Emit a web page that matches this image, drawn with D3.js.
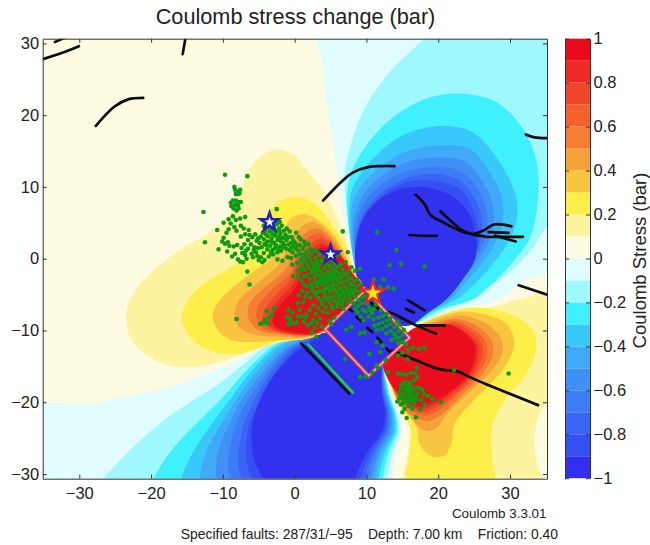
<!DOCTYPE html>
<html><head><meta charset="utf-8">
<style>html,body{margin:0;padding:0;background:#fff}svg{display:block}text{font-family:"Liberation Sans",Arial,sans-serif;fill:#222;white-space:pre}</style>
<script src="https://cdnjs.cloudflare.com/ajax/libs/d3/7.8.5/d3.min.js"></script>
</head><body><svg id="c" width="650" height="545"></svg>
<script>
const levelTicks=[1,0.8,0.6,0.4,0.2,0,-0.2,-0.4,-0.6,-0.8,-1];
const bandEdges=[-1,-0.9,-0.8,-0.7,-0.6,-0.5,-0.4,-0.3,-0.2,-0.1,0,0.1,0.2,0.3,0.4,0.5,0.6,0.7,0.8,0.9,1];
const bandColors=["#3030ee","#3450f2","#3a64f5","#3d7cf5","#3f90f5","#40aaf8","#38c8fa","#40f0ff","#9ff8fe","#e0fcfe","#fdfbe2","#fef3a0","#fdee4a","#f9c440","#f6a23a","#f47e33","#f2622f","#f0462b","#ee2a24","#ea0a1c"];
const xTicks=[-30,-20,-10,0,10,20,30];
const yTicks=[-30,-20,-10,0,10,20,30];

// Traced contours in km. Index i paints the band i+1 steps away from zero.
const contoursNE=[
[[3.4,32],[3.9,27],[4.2,23.7],[4.7,20],[5.3,16.7],[5.9,12],[6.5,7.4],[7.8,2.7],[9.1,-2.9],[10,-4.3],[12.5,-8.5],[16,-9.2],[19,-8.5],[23,-7],[28.5,-5.7],[31.8,-3.1],[36,-1.3],[38,15],[36,32]],
[[19,32],[18.1,30.7],[13.7,26.5],[10,21.4],[7.9,16.2],[7,12],[7.2,7.4],[7.9,2.7],[9.2,-2.9],[10,-4.3],[12.5,-8.5],[16,-9.2],[20,-7.6],[24.4,-5.2],[28.6,-2.9],[32.7,.9],[35.3,4.6],[38,6],[38,32]],
[[23,23],[18.3,22.3],[13.7,19.7],[10,15.8],[7.9,12],[7.3,8.8],[7.5,4.6],[8.4,-1.0],[9.3,-3],[10,-4.3],[12.5,-8.5],[16,-9.2],[20,-7.2],[24.8,-5.7],[27.2,-3.8],[29.9,-1],[32.7,2.7],[33.9,8.3],[33.7,13.5],[31.8,18.1],[28.1,21.8]],
[[20.7,18.5],[16,17.6],[12.3,15.3],[9.7,12.5],[7.9,9.3],[7.6,5.5],[7.9,1.8],[8.7,-2.0],[9.4,-3.2],[10,-4.3],[12.5,-8.5],[16,-9.2],[19,-7.4],[22.5,-5.7],[25.3,-3.3],[28.1,-.1],[30.6,4.1],[30.9,8.3],[28.5,13.5],[24.8,17.6]],
[[20.7,15.8],[16,15.1],[12.5,13.2],[9.7,10.7],[8.1,7.9],[7.9,4.6],[8.1,.9],[8.8,-2.2],[9.5,-3.4],[10,-4.3],[12.5,-8.5],[16,-9.2],[18.7,-7.5],[21.6,-5.7],[23.4,-3.8],[26.2,-.5],[28.6,3.7],[29,7.9],[27.2,12],[24.4,15.3]],
[[20.2,14.1],[16.5,13.7],[13.2,12.3],[10.4,10],[8.8,7.4],[8.1,4.1],[8.4,.4],[8.9,-2.4],[9.6,-3.6],[10,-4.3],[12.5,-8.5],[16,-9.2],[18.5,-7.6],[21.1,-5.7],[22.5,-3.8],[25.3,-.5],[27.4,3.2],[27.6,7.4],[26.2,10.7],[23.9,13.5]],
[[20,12.8],[16.5,12.4],[13.7,11.4],[10.9,9.3],[9,6.5],[8.4,3.2],[8.5,.1],[9,-2.5],[10,-4.3],[12.5,-8.5],[16,-9.2],[18.4,-7.6],[22,-4.3],[24.4,-1],[26.5,2.7],[26.7,6.7],[25.5,9.7],[23.4,12]],
[[19.7,11.8],[16.5,11.5],[13.9,10.4],[11.1,8.3],[9.3,5.8],[8.5,2.7],[8.5,-.1],[9.1,-2.6],[10,-4.3],[12.5,-8.5],[16,-9.2],[18.4,-7.6],[21.6,-4.7],[23.9,-1.5],[25.8,2.3],[26,6],[24.8,8.8],[23,10.9]],
[[18.8,10.9],[15.6,10.6],[12.5,9],[10.2,6.7],[8.8,3.7],[8.45,.5],[9.1,-2.7],[10,-4.3],[12.5,-8.5],[16,-9.2],[18.4,-7.6],[21.4,-5.2],[22.5,-3.8],[24.4,-1],[25.6,2.7],[24.8,6.9],[23,9.7]],
[[17.9,10],[14.2,9.5],[11.4,7.9],[9.5,5.5],[8.6,2.3],[8.4,-.1],[8.8,-3.0],[10,-4.3],[12.5,-8.5],[16,-9.3],[18.3,-7.7],[21.1,-5.7],[23.4,-2.9],[25.1,-.1],[25.3,2.7],[24.4,6],[22.5,8.3],[20.2,9.5]]
];
const contoursSW=[
[[-36,-20.8],[-28.55,-20.3],[-23.9,-19.3],[-19.3,-18.4],[-14.6,-17],[-10,-15.1],[-6.3,-13.3],[-3.5,-11.6],[-.7,-10.7],[3.9,-10.4],[9,-12],[12,-14.5],[12.9,-17],[13.5,-19.1],[14.5,-21.4],[14.9,-24],[14.2,-27],[13.7,-30.5],[13.5,-33],[-36,-33]],
[[-27.5,-32],[-26.7,-30.7],[-24.4,-28.2],[-21.6,-25.4],[-18.3,-22.6],[-14.6,-20],[-10.9,-17.7],[-7.6,-15.1],[-4.9,-12.8],[-2.6,-11.4],[.2,-10.7],[3.9,-10.4],[9,-12],[12,-14.5],[12.8,-17],[13.35,-19.1],[14.2,-21.4],[14.6,-24],[13.6,-27],[12.9,-30.5],[12.7,-33]],
[[-20.5,-32],[-19.7,-30.7],[-17.9,-27.7],[-15.6,-24.9],[-12.8,-22.1],[-10,-19.3],[-7.2,-16.1],[-4.4,-13.3],[-2.1,-11.6],[.7,-10.8],[3.9,-10.4],[9,-12],[12,-14.5],[12.7,-17],[13.2,-19.1],[14,-21.4],[14.3,-24],[13.1,-27],[12.3,-30.5],[12,-33]],
[[-16,-32],[-15.8,-30.7],[-14.8,-28.2],[-13.2,-25.4],[-11.1,-22.4],[-9,-19.6],[-6.7,-16.5],[-4.2,-13.7],[-1.9,-11.9],[.9,-10.9],[3.9,-10.4],[9,-12],[12,-14.5],[12.6,-17],[13.05,-19.1],[13.8,-21.4],[14,-24],[12.6,-27],[11.7,-30.5],[11.4,-33]],
[[-13.3,-32],[-13.2,-30.7],[-12.8,-28.2],[-11.6,-25.4],[-10,-22.6],[-8.1,-19.6],[-6.3,-17],[-3.9,-14.2],[-1.6,-12.1],[1.2,-11],[3.9,-10.4],[9,-12],[12,-14.5],[12.5,-17],[12.9,-19.1],[13.6,-21.4],[13.7,-24],[12.2,-27],[11.2,-30.5],[10.9,-33]],
[[-10.9,-32],[-10.9,-30.7],[-10.9,-28.2],[-10.2,-25.4],[-9,-22.8],[-7.6,-20],[-5.8,-17.5],[-3.7,-14.9],[-1.4,-12.6],[1.4,-11.2],[3.9,-10.4],[9,-12],[12,-14.5],[12.4,-17],[12.75,-19.1],[13.4,-21.4],[13.4,-24],[11.8,-27],[10.8,-30.5],[10.5,-33]],
[[-8.9,-32],[-9,-30.7],[-9.3,-28.2],[-8.8,-25.4],[-8.1,-23],[-7,-20.5],[-5.3,-17.9],[-3.5,-15.4],[-1.2,-12.8],[1.6,-11.3],[3.9,-10.4],[9,-12],[12,-14.5],[12.3,-17],[12.6,-19.1],[13.2,-21.4],[13.1,-24],[11.4,-27],[10.3,-30.5],[10,-33]],
[[-7.2,-32],[-7.4,-30.7],[-7.9,-28.2],[-7.6,-25.4],[-7,-22.8],[-6,-20.5],[-4.9,-18.4],[-3.2,-15.8],[-.9,-13],[1.9,-11.3],[3.9,-10.4],[9,-12],[12,-14.5],[12.2,-17],[12.45,-19.1],[13,-21.4],[12.8,-24],[11,-27],[9.8,-30.5],[9.5,-33]],
[[-5.6,-32],[-6,-30.7],[-6.7,-28.2],[-6.7,-25.4],[-6.3,-23],[-5.3,-20.7],[-4.4,-18.6],[-3,-16.3],[-.7,-13.3],[2.1,-11.4],[3.9,-10.4],[9,-12],[12,-14.5],[12.1,-17],[12.3,-19.1],[12.8,-21.4],[12.5,-24],[10.6,-27],[9.2,-30.5],[8.9,-33]],
[[-4,-32],[-4.4,-30.7],[-5.6,-28.2],[-6,-24.9],[-5.8,-22.6],[-4.9,-20],[-3.9,-17.9],[-2.5,-15.8],[-.2,-13.3],[2.6,-11.4],[3.9,-10.4],[9,-12],[11.8,-14.5],[12,-17],[12.15,-19.1],[12.6,-21.4],[12.2,-24],[10.1,-27],[8.5,-30.5],[8.2,-33]]
];
const contoursNW=[
[[-2.55,15.2],[-5.3,13.8],[-7.2,10.5],[-9,6.3],[-11.4,4],[-16,1.2],[-20.2,-2.1],[-23,-5.8],[-23.5,-8.1],[-22.7,-11.4],[-20.2,-13.7],[-16.5,-15.1],[-11.8,-14.7],[-7.2,-13.3],[-3,-11.9],[.7,-11.2],[3.6,-10.5],[7,-8],[9.5,-3.9],[8.3,-1.9],[7.1,2.7],[6,5.5],[4.4,8.8],[2.1,11.9],[-.2,14.5]],
[[.2,8.6],[-2.6,7.7],[-4.4,4.9],[-5.3,1.2],[-9.5,-1.6],[-13.2,-3.9],[-15.7,-7.7],[-14.6,-10.9],[-11.8,-12.8],[-8.6,-13.3],[-5.3,-12.6],[-2.6,-11.6],[1.6,-11.2],[3.6,-10.5],[7,-8],[9.5,-3.9],[8.25,-1.9],[7,2],[5.3,4.5],[3,7.5]],
[[1.6,6.2],[-.5,5.6],[-1.9,3],[-3,.3],[-6.7,-2.5],[-10,-5.3],[-11.4,-7.7],[-10.7,-10],[-8.6,-11.4],[-5.3,-11.6],[-2.1,-11.4],[1.6,-11],[3.6,-10.4],[7,-8],[9.5,-3.9],[8.2,-1.9],[6,2.6],[3.9,4.9]],
[[2.5,5.1],[.7,4.2],[-.7,2.1],[-2.1,-.7],[-5.3,-3.5],[-7.7,-5.8],[-8.4,-7.9],[-7.4,-9.8],[-4.9,-10.7],[-1.6,-10.9],[1.6,-10.9],[3.6,-10.3],[7,-8],[9.5,-3.9],[8.1,-2],[6.3,1.6],[4.4,4]],
[[3,4.2],[1.2,3.3],[0,1.6],[-1.2,-1.4],[-4.4,-4.2],[-6.3,-6.3],[-6.5,-8.1],[-5.3,-9.8],[-2.6,-10.5],[1.6,-10.8],[3.6,-10.3],[7,-8],[9.5,-3.9],[8,-2],[4.9,3]],
[[3.2,3.5],[1.6,2.6],[.5,.9],[-.7,-2.1],[-3.5,-4.6],[-5.1,-6.7],[-5.3,-8.4],[-4.2,-9.8],[-1.6,-10.4],[1.6,-10.7],[3.6,-10.2],[7,-8],[9.5,-3.9],[8,-2.1],[5.1,2.3]],
[[3.5,2.8],[1.9,1.6],[.7,.3],[-.5,-2.8],[-2.8,-5.3],[-4.2,-7.2],[-4.4,-8.6],[-3.2,-9.8],[-1.2,-10.4],[1.9,-10.6],[3.6,-10.2],[7,-8],[9.5,-3.9],[7.9,-2.2],[5.3,1.6]],
[[3.7,2.1],[2.1,.9],[.9,-.4],[-.2,-3.5],[-2.3,-5.8],[-3.5,-7.7],[-3.7,-8.8],[-2.6,-9.9],[-.7,-10.4],[2.1,-10.6],[3.6,-10.1],[7,-8],[9.5,-3.9],[7.9,-2.3],[5.6,.9]],
[[3.9,1.6],[2.6,.7],[1.2,-.9],[.2,-3.9],[-1.9,-6.3],[-3,-8.1],[-2.8,-9.3],[-.7,-10.1],[2.6,-10.4],[3.6,-10.1],[7,-8],[9.6,-3.9],[8.3,-2.4],[7,-.3],[5.5,1.2]]
];
const contoursSE=[
[[16.5,-9.8],[19,-8.9],[23.4,-7.6],[27.2,-6.8],[31.8,-5.5],[36,-5],[38,-12],[36,-20],[35,-20.3],[33.9,-22.1],[33.4,-25.4],[33.7,-28.2],[34.4,-32],[15.5,-32],[15.8,-26.8],[16,-23.5],[15.1,-21.6],[13.7,-19.3],[13,-16.8],[12.3,-14.5],[14,-12.5]],
[[16.5,-9.8],[19.7,-8.1],[24.4,-6.8],[30,-7.7],[33.2,-10],[33.6,-12.8],[32.3,-16],[29.5,-19.3],[27.6,-23],[27.4,-26.8],[27.5,-32],[15.8,-32],[16,-27.2],[16.2,-24],[15.3,-21.7],[14,-19.3],[13.2,-17],[12.3,-14.5],[14,-12.5]],
[[16.5,-9.8],[18.8,-8.6],[23,-7.4],[26.2,-7.7],[29.5,-9.1],[30.6,-11.6],[29.5,-14.7],[27.2,-17.5],[24.4,-20.3],[22.3,-23],[21.8,-25.8],[20.7,-27.5],[19,-27.5],[17.4,-25.8],[17,-23.5],[15.8,-21.7],[14.2,-19.6],[13.3,-17.2],[12.3,-14.5],[14,-12.5]],
[[16.5,-9.8],[19.3,-8.8],[23,-7.9],[26.2,-8.8],[28.5,-10.7],[29,-12.8],[27.6,-15.4],[24.8,-18.2],[21.6,-21.2],[19.5,-23.8],[17.9,-23.8],[16,-21.9],[14.4,-19.8],[13.5,-17.5],[12.3,-14.5],[14,-12.5]],
[[16.5,-9.8],[19.5,-9],[22.5,-8.4],[25.3,-9.3],[27.4,-11.4],[27.6,-13.5],[26.2,-16],[23.4,-18.9],[20.2,-21.9],[18.3,-22.6],[16.2,-21.7],[14.5,-20],[13.5,-17.7],[12.3,-14.5],[14,-12.5]],
[[16.5,-9.8],[19.7,-9.3],[22.3,-8.7],[24.8,-9.8],[26.6,-11.6],[26.8,-13.5],[25.3,-16.3],[22.7,-18.9],[20,-21.2],[18.1,-21.9],[16.2,-21.2],[14.6,-19.8],[13.6,-17.7],[12.3,-14.5],[14,-12.5]],
[[16.5,-9.8],[20,-9.4],[22,-9],[24.4,-10],[26,-11.9],[26.1,-13.7],[24.8,-16.3],[22.3,-18.9],[19.7,-20.7],[17.9,-21.4],[16.2,-20.8],[14.7,-19.6],[13.7,-17.5],[12.3,-14.5],[14,-12.5]],
[[16.5,-9.8],[20.2,-9.6],[22,-9.3],[24.1,-10.5],[25.5,-12.1],[25.5,-13.7],[24.4,-16.3],[22,-18.6],[19.5,-20.3],[17.6,-21],[16.2,-20.5],[14.9,-19.3],[13.8,-17.5],[12.3,-14.5],[14,-12.5]],
[[16.5,-9.8],[18.3,-9.4],[21.6,-9.2],[23.9,-10.5],[25.1,-12.1],[25.1,-13.7],[24.1,-16.3],[21.8,-18.4],[19.3,-20],[17.2,-20.6],[15.5,-19.8],[14.2,-18.6],[13,-16.8],[12.3,-14.5],[14,-12.5]]
];

const faultRect=[[9.9,-4.35],[16,-11],[10.3,-16.3],[4.25,-9.8]];
const activeFills=[[9.9,-4],[16.4,-11],[10.3,-16.7],[3.9,-9.8]];

const mapFaults=[
[[-35.05,27.8],[-31.8,28.9],[-30.05,29.6]],
[[-33.4,30.2],[-32,30.8]],
[[-15.6,28.5],[-15.2,30.8]],
[[-27.7,18.5],[-25.1,21.2],[-23.2,22.2],[-21.1,22.4]],
[[3.95,8.1],[6.7,10.9],[8.1,12],[10.2,12.75],[11.8,12.9],[13.9,12.9]],
[[16.85,8.9],[18.1,7.6],[18.9,6.1],[20.7,5.06],[23,3.9],[24.8,3.4],[26.7,3.05],[29,3.05],[31.8,3.05]],
[[20.3,6.6],[22.05,5],[23.45,3.9],[24.8,3.4]],
[[24.8,3.4],[26.2,3.9],[27.9,4.8],[30.2,4.5]],
[[27,3.7],[29.8,3.6]],
[[27.9,3.2],[29,2.9],[30.8,2.4]],
[[16,3.3],[17.9,3.2],[19.8,3.2]],
[[32.2,17.3],[33.4,16.9],[35.1,16.8]],
[[31.2,-3.7],[35.1,-5]],
[[10.7,-6.2],[11.8,-7],[13.7,-7.65],[15.55,-8.6],[17.4,-9.5],[19.7,-10.45]],
[[17.4,-9.3],[20.9,-9.3]],
[[15.8,-5.8],[18.1,-7.2]],
[[15.5,-7],[16.6,-7.5]],
[[13.6,-12.8],[17,-14.2],[20.2,-15.4],[22.7,-15.7],[24.4,-16.5],[26.7,-17.5],[33.9,-20.4]],
[[7.4,-6.8],[8,-7.3]],[[8.6,-8.1],[9.3,-8.7]],[[10.1,-9.6],[10.8,-10.2]],[[11.5,-11],[12.1,-11.7]],[[12.8,-12.5],[13.3,-13]],
[[.9,-11.8],[7.6,-18.8]]
];
const greenTrace=[[1.76,-11.8],[8.2,-18.75]];
const epicentersBlue=[[-3.5,5.1],[5,.6]];
const epicenterMain=[[10.9,-4.8]];

const shocksFar=[[-9.7,11.7],[-6.6,11.5],[-12.7,6.5],[-12.5,2.3],[-10.8,4],[-2.5,6.9],[-6.3,-3.6],[-6.6,-1.8],[-8.1,-8.4],
[-8.3,9.6],[-8,9.3],[-7.6,9.6],[-8.2,9],[-7.9,9],[-8.4,10],[-7.7,9.1],[-8.9,7.8],[-8.6,8.1],[-8.2,8.1],[-7.8,7.9],[-7.5,7.9],[-8.8,7.3],[-8.3,7.5],[-7.9,7.4],[-8.5,7],[-7.8,7],[-8.1,6.7],
[11.5,3.7],[14.2,1.2],[6.7,3.8],[9.1,-1.4],[7.4,.9],[12.4,-2.9],[13.2,-.9],[14.8,-.7],[18.1,-1.1],[13.8,-4.2],[11.9,-3.9],[11,-2.9],[13,-4]];
const shocksNW=[[-9.9,5],[-9.2,5.5],[-8.6,5.9],[-8.2,5.4],[-7.6,5.6],[-6.9,5.8],[-8.9,4.9],[-8.4,4.4],[-7.5,4.6],[-7.1,4.2],[-9.2,4.1],[-9.5,3.6],[-8.1,3.9],[-6.4,4],[-6.9,3.4],[-7.5,3.1],[-9.9,2.9],[-10.1,2.4],[-9.7,2.1],[-9.3,2.3],[-9.1,1.8],[-8.5,1.7],[-8,1.9],[-7.4,1.5],[-7,2],[-6.5,2.6],[-5.9,3],[-6.1,2],[-6.8,1.1],[-7.3,.8],[-8.3,.7],[-8.7,.3],[-9.4,1],[-10.6,1.3],[-7.9,-.1],[-7.6,-.4],[-7.2,-.5],[-6.7,0],[-6.9,.5],[-6,.7],[-5.4,.9],[-5.1,1.5],[-5.6,1.6],[-4.9,2.2],[-4.3,2.7],[-5.3,2.5],[-4.7,3.1],[-4,3.4],[-3.5,3.8],[-4.1,4],[-3.6,4.4],[-3,4.5],[-2.8,3.9],[-2.2,4.2],[-2,3.5],[-2.7,3.2],[-3.2,2.8],[-2.4,2.6],[-1.8,2.9],[-1.3,3.3],[-.7,3.8],[-1.1,4.2],[-.4,3],[.2,3.6],[-1.6,2.2],[-2,1.7],[-2.6,1.9],[-3.4,1.8],[-3.8,1.3],[-3.1,1.2],[-4.3,.8],[-4.7,.2],[-5,-.2],[-4.5,-.5],[-4.2,-.2],[-3.6,.3],[-3,.6],[-2.4,.9],[-1.9,1.1],[-1.2,1.4],[-.8,2],[0,2.3],[.4,1.9],[.8,2.7],[1.3,2.4],[1.9,2.1],[1.1,1.4],[.5,1.1],[-.3,.9],[-2.4,-.1],[-1.7,-.3],[-1,.2],[-.5,.1],[.2,.4],[.9,-.2],[-3.1,3.4],[-3.8,2.4],[-4.6,1.6],[-5.5,3.4],[-2.2,3],[-1.5,3.9],[-.2,2.5],[.6,3],[1.5,1.9],[2.2,1.3],[-3.3,4],[-2.5,4.8],[-1.8,4.6],[-2.9,2.2],[-1.1,2.6]];
const shocksCenter=[[1.3,.6],[1.8,.2],[2.4,.7],[2.9,.2],[3.5,.5],[3.1,-.4],[2.4,-.6],[1.7,-.8],[1,-1],[1.4,-1.5],[2,-1.3],[2.7,-1.1],[3.4,-.9],[4,-.5],[4.6,-.2],[5.3,-.4],[4.9,-1],[4.2,-1.3],[3.6,-1.6],[2.9,-1.8],[2.3,-2],[1.7,-2.3],[2.1,-2.8],[2.8,-2.6],[3.4,-2.3],[4,-2.1],[4.6,-1.8],[5.3,-1.5],[6,-1.2],[6.7,-1.5],[6.2,-2],[5.5,-2.2],[4.9,-2.5],[4.2,-2.8],[3.5,-3],[2.9,-3.3],[2.3,-3.5],[3.1,-3.9],[3.8,-3.6],[4.5,-3.3],[5.2,-3],[5.9,-2.8],[6.5,-2.6],[7.2,-2.3],[7.8,-2.7],[7.1,-3.1],[6.4,-3.4],[5.7,-3.7],[5,-3.9],[4.3,-4.1],[3.6,-4.5],[4.2,-4.9],[4.9,-4.6],[5.6,-4.4],[6.3,-4.1],[7,-3.9],[7.7,-3.5],[8.3,-3.2],[8.6,-3.9],[7.9,-4.3],[7.2,-4.6],[6.5,-4.9],[5.8,-5.1],[5.1,-5.4],[4.4,-5.7],[3.7,-5.9],[4.9,-6.1],[5.6,-5.9],[6.3,-5.7],[7,-5.4],[7.6,-5.1],[8.1,-4.8],[7.3,-6.1],[6.6,-6.4],[5.9,-6.7],[5.3,-7],[1.1,-4.5],[1.8,-4.7],[2.5,-4.4],[1.5,-5.3],[2.2,-5.4],[2.9,-5.1],[.6,-5.1],[1.2,-6],[.4,-6.2],[2.6,-6.5],[3.3,-6.9],[2.9,-7.7],[3.9,-7.4],[4.6,-7.5],[2.1,-7.1],[3.5,-8.3],[.9,-3],[1.3,-3.6],[.4,-1.7],[-.2,-2.4],[.5,-2.5],[6.1,.6],[7.1,-.5],[5.6,.3],[7.5,-1.9],[8.4,-1.7],[6.8,-7],[5.5,-8.2],[4.8,-8.6],[3.8,-9.4],[5.1,-9.1],[.7,-7.1],[1.7,-7.8],[-.3,-7.5],[1.3,-8.8],[.3,-8.9],[-.7,-8.3],[-.9,-9.2],[2.3,-9],[2.8,-9.6]];
const shocksDense=[[-3.72,3.13],[-3.28,2.41],[-2.63,3.62],[-1.94,2.43],[-1.37,1.88],[-.94,3.01],[-2.13,3.97],[-.52,2.18],[.17,1.42],[.71,1.87],[-4.41,3.63],[-5.06,2.86],[-3.97,1.92],[-3.32,.84],[-2.76,1.44],[-1.62,1.63],[-.71,1.22],[-.14,1.77],[1.63,.97],[2.61,1.24],[.38,-.58],[1.12,.14],[.74,.62],[-.32,-.84],[.88,-1.62],[1.51,-.38],[2.22,-.09],[2.87,-.83],[3.74,-.21],[4.32,.34],[4.38,-.81],[3.11,-1.37],[2.52,-1.58],[1.31,-2.41],[3.03,-2.21],[3.82,-2.64],[4.41,-2.37],[5.12,-2.06],[5.71,-1.73],[6.41,-.82],[5.61,-.83],[3.26,-3.41],[4.02,-3.21],[4.71,-2.93],[5.42,-2.61],[6.13,-2.41],[6.82,-2.12],[7.43,-2.91],[6.74,-3.34],[6.02,-3.12],[5.37,-3.44],[4.66,-3.81],[3.97,-4.43],[4.58,-4.22],[5.26,-4.13],[5.92,-4.56],[6.61,-4.47],[7.31,-4.18],[7.96,-3.72],[8.42,-4.41],[7.62,-4.72],[6.89,-5.02],[6.21,-5.31],[5.46,-5.16],[4.72,-5.39],[4.13,-5.44],[3.17,-4.62],[2.41,-3.92],[1.72,-3.82],[2.76,-4.78],[3.31,-5.52],[5.22,-6.62],[6.04,-6.24],[6.72,-5.87],[7.71,-5.62],[4.36,-6.72],[3.88,-6.37],[-3.41,4.92],[-2.92,5.32],[-4.3,4.6],[-2.08,5.1],[-1.3,2.9],[-4.2,2.05],[-5.7,1.22],[-6.3,3.31],[-6.5,1.41],[-2.22,1.39],[-.46,1.52],[-5.2,.4],[-5.8,.2],[7.9,-1.2],[3.2,1.0],[4.9,.7],[8.7,-2.9],[8.9,-4.6],[9.1,-3.6],[9.7,-5.2],[10.1,-6.3],[10.6,-7.3],[9.2,-8.1],[11.1,-5.4],[8.45,-7],[9.6,-8.6],[12,-7.2],[12.8,-7.7],[13.3,-8.3],[14.6,-9.2],[15.2,-9.9],[14.3,-8.8]];
const shocksLowerNW=[[-3.9,-7.3],[-3.2,-7.7],[-3.6,-8.2],[-4.2,-8.5],[-4.4,-8.9],[-3.8,-9],[-4.8,-9.1],[-2.9,-6.9],[-.9,-7.1],[-1.1,-8.1],[-.6,-8.6],[-.2,-9],[0.4,-8.1],[.9,-8],[1.5,-8.2],[1.8,-9.3],[2.6,-8.5],[3.1,-8.9],[2.4,-10.3],[3,-10.9]];
const shocksRect=[[8.4,-5.3],[8.9,-5.8],[9.4,-5.4],[8.2,-6.2],[8.8,-6.6],[9.3,-6.2],[9.9,-6],[10.4,-5.6],[9.5,-7.1],[8.8,-7.5],[9.9,-7.4],[10.4,-6.9],[11,-7],[10.8,-7.6],[11.3,-6.4],[10.3,-8.1],[11,-8.4],[11.7,-8.2],[12.3,-8],[12.9,-8.6],[12.3,-8.9],[11.7,-9.1],[11.1,-9.3],[11.5,-9.9],[12.2,-9.8],[12.8,-9.4],[13.4,-9.1],[13.9,-9.6],[13.4,-10.1],[12.8,-10.4],[13.9,-10.5],[14.5,-10.1],[14.1,-11],[14.6,-11],[15.1,-10.6],[13.5,-11.3],[14.4,-11.7],[15,-11.6],[15.5,-11.9],[9.1,-10.4],[9.7,-10.3],[7.2,-9.9],[7.9,-9.5],[11.4,-11.6],[12.2,-12.1],[11.9,-13],[10.4,-13.3],[7,-14],[12.7,-14.1],[11.6,-15.2],[9.9,-16.4],[9.1,-16.5],[11.4,-14.8],[10.8,-15.9]];
const shocksSE=[[14.4,-13.5],[15,-13.1],[15.8,-12.8],[16.4,-12.4],[17.3,-12.6],[18.1,-12.4],[15.7,-14],[17,-15.2],[22.2,-15.5],[13,-15.8],[29.8,-16],[14.4,-16],[15,-16.1],[15.6,-16.2],[16.2,-15.9],[16.8,-16],[17,-16.5],[16.6,-17],[16,-17.3],[15.6,-17.7],[16.2,-17.9],[15.4,-18.2],[14.8,-18],[14.6,-18.6],[15.1,-18.9],[15.7,-18.6],[16.3,-18.5],[16.8,-18.1],[17.3,-18],[17.8,-18.3],[17.1,-18.8],[16.5,-19.1],[15.9,-19.2],[15.2,-19.6],[15.7,-19.9],[16.3,-19.8],[17,-19.5],[17.6,-19.7],[16.7,-20.1],[15.9,-20.5],[16.4,-20.9],[15.3,-20.9],[15,-21.4],[18.6,-19.1],[19.2,-19.6],[20.4,-20],[18.1,-20.3],[14.8,-20.3],[17.5,-21],[16.9,-22.1],[15.6,-22.2],[14.3,-19.9],[14.9,-19.2],[18,-18.9],[15.3,-17.2],[14.9,-17.6],[15.4,-19.3],[16.1,-18.9],[16.6,-19.5],[15.2,-20.1],[14.6,-19.4],[16,-19.6],[15.8,-18.1]];

const svg=d3.select("#c");
const x=d3.scaleLinear().domain([-35.1,35.15]).range([42.7,547]);
const y=d3.scaleLinear().domain([-30.65,30.65]).range([478.7,38.7]);
const cb=d3.scaleLinear().domain([-1,1]).range([478.2,38.7]);
const loop=d3.line().x(d=>x(d[0])).y(d=>y(d[1])).curve(d3.curveCatmullRomClosed.alpha(.5));
const path=d3.line().x(d=>x(d[0])).y(d=>y(d[1])).curve(d3.curveCatmullRom.alpha(.5));
const closed=d3.line().x(d=>x(d[0])).y(d=>y(d[1])).curve(d3.curveLinearClosed);

const defs=svg.append("defs");
defs.append("clipPath").attr("id","pc").append("rect").attr("x",x(-35.1)).attr("y",y(30.65)).attr("width",x(35.15)-x(-35.1)).attr("height",y(-30.65)-y(30.65));
defs.append("filter").attr("id","soft").attr("x","-5%").attr("y","-5%").attr("width","110%").attr("height","110%").append("feGaussianBlur").attr("stdDeviation",.45);

const plot=svg.append("g").attr("clip-path","url(#pc)");
const marks=plot.append("g").attr("filter","url(#soft)");
marks.append("rect").attr("x",x(-35.1)).attr("y",y(30.65)).attr("width",x(35.15)-x(-35.1)).attr("height",y(-30.65)-y(30.65)).attr("fill",bandColors[10]);
function lobes(list,first,dir){marks.append("g").selectAll("path").data(list).join("path").attr("d",loop).attr("fill",(d,i)=>bandColors[first+dir*i]);}
lobes(contoursNE,9,-1);
lobes(contoursSW,9,-1);
lobes(contoursNW,11,1);
lobes(contoursSE,11,1);
marks.append("path").attr("d",closed(activeFills)).attr("fill",bandColors[0]);
marks.append("g").selectAll("path").data(mapFaults).join("path").attr("d",path).attr("fill","none").attr("stroke","#0a0a0a").attr("stroke-width",2.7).attr("stroke-linecap","round");
marks.append("path").attr("d",path(greenTrace)).attr("fill","none").attr("stroke","#22d040").attr("stroke-width",2.6);
marks.append("path").attr("d",closed(faultRect)).attr("fill","none").attr("stroke","#f03c3c").attr("stroke-width",3.8);
marks.append("path").attr("d",closed(faultRect)).attr("fill","none").attr("stroke","#fbcaca").attr("stroke-width",1.1);
const allShocks=[...shocksFar,...shocksNW,...shocksDense,...shocksCenter,...shocksLowerNW,...shocksRect,...shocksSE];
marks.append("g").selectAll("circle").data(allShocks).join("circle").attr("cx",d=>x(d[0])).attr("cy",d=>y(d[1])).attr("r",2.3).attr("fill","#0f9a12");
const star=d3.symbol().type(d3.symbolStar);
marks.append("g").selectAll("path").data(epicentersBlue).join("path").attr("transform",d=>`translate(${x(d[0])},${y(d[1])})`).attr("d",star.size(100)).attr("fill","#fff").attr("stroke","#2222b4").attr("stroke-width",2.6);
marks.append("g").selectAll("path").data(epicenterMain).join("path").attr("transform",d=>`translate(${x(d[0])},${y(d[1])})`).attr("d",star.size(165)).attr("fill","#ffe81e").attr("stroke","#e8261c").attr("stroke-width",2.2);

function styleAxis(g){g.select(".domain").attr("stroke","#333");g.selectAll("line").attr("stroke","#333");g.selectAll("text").style("font-size","16.5px").attr("fill","#222").style("font-family","'Liberation Sans',Arial,sans-serif");}
svg.append("g").attr("transform",`translate(0,${y(-30.65)})`).call(d3.axisBottom(x).tickValues(xTicks).tickSize(-4).tickSizeOuter(0).tickPadding(9)).call(styleAxis);
svg.append("g").attr("transform",`translate(0,${y(30.65)})`).call(d3.axisTop(x).tickValues(xTicks).tickSize(-4).tickSizeOuter(0).tickFormat("")).call(styleAxis);
svg.append("g").attr("transform",`translate(${x(-35.1)},0)`).call(d3.axisLeft(y).tickValues(yTicks).tickSize(-4).tickSizeOuter(0).tickPadding(3.5)).call(styleAxis);
svg.append("g").attr("transform",`translate(${x(35.15)},0)`).call(d3.axisRight(y).tickValues(yTicks).tickSize(-4).tickSizeOuter(0).tickFormat("")).call(styleAxis);

const bar=svg.append("g");
bar.selectAll("rect").data(bandColors).join("rect").attr("x",565).attr("width",25).attr("y",(d,i)=>cb(bandEdges[i+1])).attr("height",(d,i)=>cb(bandEdges[i])-cb(bandEdges[i+1])).attr("fill",d=>d);
svg.append("g").attr("transform","translate(590,0)").call(d3.axisRight(cb).tickValues(levelTicks).tickSize(-4).tickSizeOuter(0).tickPadding(3.5).tickFormat(d3.format("~g"))).call(styleAxis);
svg.append("g").attr("transform","translate(565,0)").call(d3.axisLeft(cb).tickValues(levelTicks).tickSize(-4).tickSizeOuter(0).tickFormat("")).call(styleAxis);

svg.append("text").attr("x",295.5).attr("y",24).attr("text-anchor","middle").style("font-size","21.7px").text("Coulomb stress change (bar)");
svg.append("text").attr("transform","translate(646,260.5) rotate(-90)").attr("text-anchor","middle").style("font-size","18.5px").text("Coulomb Stress (bar)");
svg.append("text").attr("x",546.5).attr("y",518).attr("text-anchor","end").style("font-size","13.4px").text("Coulomb 3.3.01");
svg.append("text").attr("x",558).attr("y",539).attr("text-anchor","end").style("font-size","13.9px").text("Specified faults: 287/31/\u221295    Depth: 7.00 km    Friction: 0.40");
</script></body></html>
